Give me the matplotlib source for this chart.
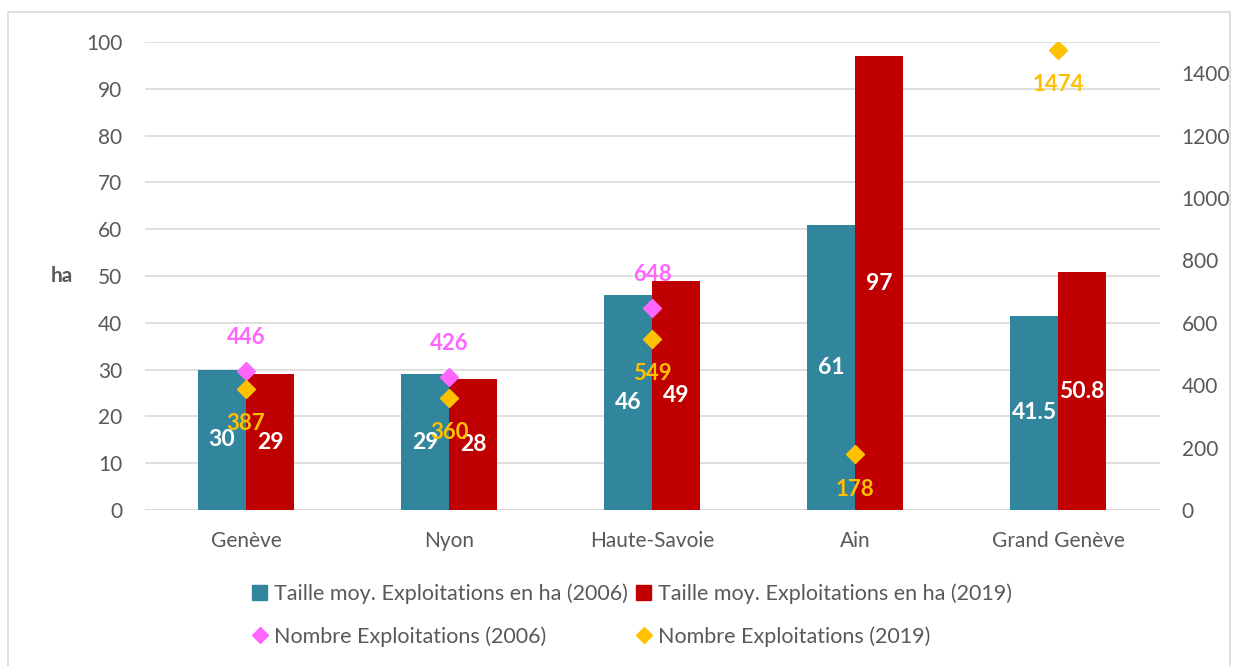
import numpy as np
import matplotlib.pyplot as plt
from matplotlib.patches import Rectangle
from matplotlib.lines import Line2D

plt.rcParams['font.family'] = ['Lato', 'DejaVu Sans']

# --- données ---
regions = ['Genève', 'Nyon', 'Haute-Savoie', 'Ain', 'Grand Genève']
taille_2006 = [30, 29, 46, 61, 41.5]
taille_2019 = [29, 28, 49, 97, 50.8]
nb_2006 = [446, 426, 648, np.nan, np.nan]
nb_2019 = [387, 360, 549, 178, 1474]
labels_taille_2006 = ['30', '29', '46', '61', '41.5']
labels_taille_2019 = ['29', '28', '49', '97', '50.8']

C_2006 = '#31859C'
C_2019 = '#C00000'
C_PINK = '#FF66FF'
C_GOLD = '#FFC000'
GREY = '#595959'

fig = plt.figure(figsize=(12.36, 6.66), dpi=100)
ax = fig.add_axes([144.5 / 1236, 156 / 666, 1015 / 1236, 468 / 666])
ax2 = ax.twinx()

x = np.arange(len(regions))
w = 0.236

ax.bar(x - w / 2, taille_2006, w, color=C_2006, zorder=2)
ax.bar(x + w / 2, taille_2019, w, color=C_2019, zorder=2)

for xi, v, t in zip(x, taille_2006, labels_taille_2006):
    ax.text(xi - w / 2, v / 2, t, ha='center', va='center', color='white',
            fontsize=16.5, fontweight='bold', zorder=3)
for xi, v, t in zip(x, taille_2019, labels_taille_2019):
    ax.text(xi + w / 2, v / 2, t, ha='center', va='center', color='white',
            fontsize=16.5, fontweight='bold', zorder=3)

ax2.plot(x, nb_2006, 'D', color=C_PINK, markersize=9.5, linestyle='none', zorder=4)
ax2.plot(x, nb_2019, 'D', color=C_GOLD, markersize=9.5, linestyle='none', zorder=4)
for xi, v in zip(x, nb_2006):
    if not np.isnan(v):
        ax2.annotate(f'{v:.0f}', (xi, v), xytext=(0, 24), textcoords='offset points',
                     ha='center', va='center', color=C_PINK, fontsize=16,
                     fontweight='bold', zorder=5)
for xi, v in zip(x, nb_2019):
    ax2.annotate(f'{v:.0f}', (xi, v), xytext=(0, -25), textcoords='offset points',
                 ha='center', va='center', color=C_GOLD, fontsize=16,
                 fontweight='bold', zorder=5)

ax.set_xlim(-0.5, len(regions) - 0.5)
ax.set_ylim(0, 100)
ax.set_yticks(np.arange(0, 101, 10))
ax2.set_ylim(0, 1500)
ax2.set_yticks(np.arange(0, 1401, 200))
ax.set_xticks(x)
ax.set_xticklabels(regions)

ax.yaxis.grid(True, color='#D9D9D9', linewidth=1.2, zorder=0)
ax.set_axisbelow(True)
for a in (ax, ax2):
    for s in a.spines.values():
        s.set_visible(False)
    a.tick_params(length=0, colors=GREY, labelsize=15)
ax.tick_params(axis='y', pad=16)
ax.tick_params(axis='x', pad=15)
ax2.tick_params(axis='y', pad=16)
ax.axhline(0, color='#D9D9D9', linewidth=1.2, zorder=1)

fig.text(62 / 1236, 1 - 276 / 666, 'ha', ha='center', va='center',
         fontsize=15, fontweight='bold', color=GREY)

handles = [
    Rectangle((0, 0), 1, 1, color=C_2006),
    Line2D([], [], marker='D', color=C_PINK, linestyle='none', markersize=8),
    Rectangle((0, 0), 1, 1, color=C_2019),
    Line2D([], [], marker='D', color=C_GOLD, linestyle='none', markersize=8),
]
labels = ['Taille moy. Exploitations en ha (2006)', 'Nombre Exploitations (2006)',
          'Taille moy. Exploitations en ha (2019)', 'Nombre Exploitations (2019)']
leg = fig.legend(handles, labels, ncol=2, loc='center',
                 bbox_to_anchor=(632 / 1236, 1 - 615 / 666), frameon=False,
                 fontsize=15.5, handlelength=0.7, handleheight=0.7, handletextpad=0.3,
                 columnspacing=0.4, labelspacing=1.05)
for t in leg.get_texts():
    t.set_color(GREY)

fig.patches.append(Rectangle((8 / 1236, -0.01), 1222 / 1236, 1 - 12 / 666 + 0.01,
                             transform=fig.transFigure, fill=False,
                             edgecolor='#D9D9D9', linewidth=1.2))

fig.savefig('out.png', dpi=100)
